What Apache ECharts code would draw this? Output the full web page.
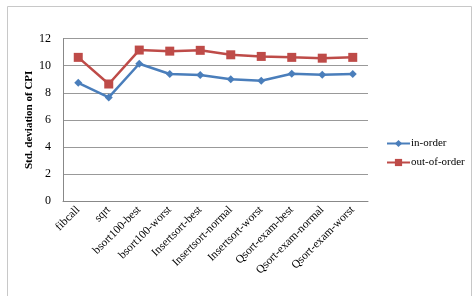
<!DOCTYPE html>
<html>
<head>
<meta charset="utf-8">
<script src="https://cdn.jsdelivr.net/npm/echarts@6/dist/echarts.min.js"></script>
<style>
  html, body { margin: 0; padding: 0; background: #fff; }
  #main { width: 474px; height: 296px; }
</style>
</head>
<body>
<div id="main"></div>
<script>
// benchmarks on the x axis
const categories = ['fibcall', 'sqrt', 'bsort100-best', 'bsort100-worst', 'Insertsort-best',
  'Insertsort-normal', 'Insertsort-worst', 'Qsort-exam-best', 'Qsort-exam-normal', 'Qsort-exam-worst'];
const inOrder = [8.74, 7.66, 10.15, 9.39, 9.31, 9.0, 8.89, 9.41, 9.33, 9.39];
const outOfOrder = [10.62, 8.65, 11.16, 11.08, 11.14, 10.81, 10.69, 10.62, 10.56, 10.62];
const yTicks = [0, 2, 4, 6, 8, 10, 12];

const serif = 'Liberation Serif';
const chart = echarts.init(document.getElementById('main'));

chart.setOption({
  animation: false,
  backgroundColor: '#fff',
  graphic: [{
    type: 'rect',
    shape: { x: 7.5, y: 6.5, width: 464, height: 300 },
    style: { fill: 'none', stroke: '#c8c8c8', lineWidth: 1 }
  }],
  grid: { left: 63, right: 106, top: 38.7, bottom: 95 },
  legend: {
    orient: 'vertical',
    left: 386,
    top: 138,
    padding: 0,
    itemWidth: 23,
    itemHeight: 9,
    itemGap: 8,
    itemStyle: { borderWidth: 0 },
    textStyle: { fontFamily: serif, fontSize: 11, color: '#000', padding: [0, 0, 0, -4] },
    data: ['in-order', 'out-of-order']
  },
  xAxis: {
    type: 'category',
    data: categories,
    boundaryGap: true,
    axisLine: { lineStyle: { color: '#888' } },
    axisTick: { show: false },
    axisLabel: { rotate: 45, interval: 0, margin: 7, fontFamily: serif, fontSize: 11.5, color: '#000' }
  },
  yAxis: {
    type: 'value',
    min: yTicks[0],
    max: yTicks[yTicks.length - 1],
    interval: 2,
    name: 'Std. deviation of CPI',
    nameLocation: 'middle',
    nameGap: 28,
    nameMoveOverlap: false,
    nameTextStyle: { fontFamily: serif, fontSize: 11, fontWeight: 'bold', color: '#000' },
    axisLine: { show: true, lineStyle: { color: '#888' } },
    axisTick: { show: false },
    axisLabel: { margin: 12, fontFamily: serif, fontSize: 12, color: '#000' },
    splitLine: { lineStyle: { color: '#999' } }
  },
  series: [
    {
      name: 'in-order',
      type: 'line',
      data: inOrder,
      symbol: 'diamond',
      symbolSize: 8,
      color: '#4a7ebb',
      lineStyle: { width: 2.5 }
    },
    {
      name: 'out-of-order',
      type: 'line',
      data: outOfOrder,
      symbol: 'rect',
      symbolSize: 9,
      color: '#be4b48',
      lineStyle: { width: 2.5 }
    }
  ]
});
</script>
</body>
</html>
